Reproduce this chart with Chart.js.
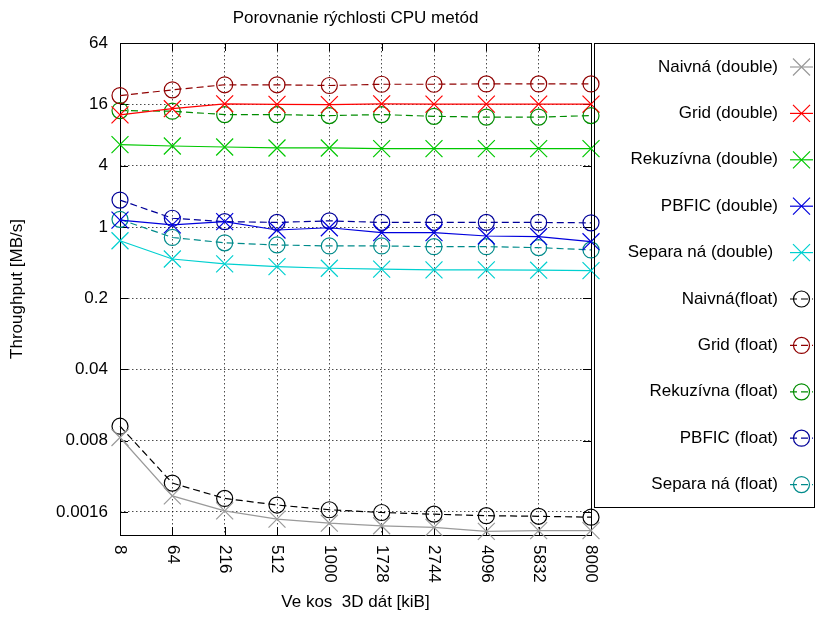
<!DOCTYPE html>
<html>
<head>
<meta charset="utf-8">
<script src="https://cdn.jsdelivr.net/npm/chart.js"></script>
<style>
  body { margin: 0; background: #fff; }
  #wrap { width: 817px; height: 617px; }
</style>
</head>
<body>
<div id="wrap"><canvas id="myChart" width="817" height="617"></canvas></div>
<script>
// data
const sizes = ['8', '64', '216', '512', '1000', '1728', '2744', '4096', '5832', '8000'];
const yTicks = [0.0016, 0.008, 0.04, 0.2, 1, 4, 16, 64];

const naivnaDouble = [0.0086, 0.0023, 0.00164, 0.00136, 0.00124, 0.00117, 0.00113, 0.00103, 0.00105, 0.00105];
const gridDouble = [12.6, 14.5, 16.2, 16.0, 15.9, 16.2, 16.1, 16.1, 16.1, 16.1];
const rekDouble = [6.44, 6.24, 6.10, 5.97, 5.97, 5.88, 5.88, 5.88, 5.88, 5.88];
const pbficDouble = [1.17, 1.05, 1.13, 0.935, 0.984, 0.88, 0.88, 0.817, 0.804, 0.718];
const sepDouble = [0.734, 0.486, 0.435, 0.409, 0.394, 0.386, 0.380, 0.380, 0.377, 0.374];

const naivnaFloat = [0.0111, 0.00307, 0.00217, 0.00187, 0.00168, 0.00158, 0.00152, 0.00147, 0.00145, 0.00142];
const gridFloat = [19.5, 22.2, 24.9, 24.9, 24.5, 25.2, 25.2, 25.4, 25.4, 25.4];
const rekFloat = [13.9, 13.7, 12.7, 12.7, 12.4, 12.7, 12.2, 12.0, 12.0, 12.4];
const pbficFloat = [1.84, 1.22, 1.13, 1.11, 1.15, 1.11, 1.11, 1.11, 1.11, 1.10];
const sepFloat = [1.19, 0.79, 0.70, 0.667, 0.652, 0.652, 0.642, 0.642, 0.628, 0.596];

const FONT = "'Liberation Sans', Arial, sans-serif";
Chart.defaults.font.family = FONT;
Chart.defaults.font.size = 17;
Chart.defaults.color = '#000';

function serie(label, data, color, isFloat) {
    return {
        label: label,
        data: data,
        borderColor: color,
        backgroundColor: 'transparent',
        borderWidth: 1.2,
        borderDash: isFloat ? [7, 4] : [],
        pointStyle: isFloat ? 'circle' : 'crossRot',
        pointRadius: isFloat ? 8 : 12,
        pointHoverRadius: isFloat ? 8 : 12,
        pointBorderColor: color,
        pointBackgroundColor: 'transparent',
        pointBorderWidth: 1.2,
        tension: 0,
        clip: false
    };
}

const datasets = [
    serie('Naivná (double)', naivnaDouble, '#9a9a9a', false),
    serie('Grid (double)', gridDouble, '#ff0000', false),
    serie('Rekuzívna (double)', rekDouble, '#00c800', false),
    serie('PBFIC (double)', pbficDouble, '#0000dd', false),
    serie('Separa ná (double) ', sepDouble, '#00d0d0', false),
    serie('Naivná(float)', naivnaFloat, '#000000', true),
    serie('Grid (float)', gridFloat, '#900000', true),
    serie('Rekuzívna (float)', rekFloat, '#008c00', true),
    serie('PBFIC (float)', pbficFloat, '#000099', true),
    serie('Separa ná (float)', sepFloat, '#008b8b', true)
];

// frame, inner tick marks, rotated x labels and the legend box
const decor = {
    id: 'decor',
    beforeDatasetsDraw(chart) {
        const {ctx, chartArea: a, scales} = chart;
        ctx.save();
        ctx.strokeStyle = '#000';
        ctx.lineWidth = 1;
        ctx.setLineDash([]);
        ctx.beginPath();
        yTicks.forEach(v => {
            const y = Math.round(scales.y.getPixelForValue(v)) + 0.5;
            ctx.moveTo(a.left, y); ctx.lineTo(a.left + 8, y);
            ctx.moveTo(a.right, y); ctx.lineTo(a.right - 8, y);
        });
        sizes.forEach((s, i) => {
            const x = Math.round(scales.x.getPixelForValue(i)) + 0.5;
            ctx.moveTo(x, a.bottom); ctx.lineTo(x, a.bottom - 8);
            ctx.moveTo(x, a.top); ctx.lineTo(x, a.top + 8);
        });
        ctx.stroke();
        ctx.strokeRect(Math.round(a.left) + 0.5, Math.round(a.top) + 0.5,
            Math.round(a.right - a.left), Math.round(a.bottom - a.top));
        ctx.restore();
    },
    afterDraw(chart) {
        const {ctx, chartArea: a, scales} = chart;
        ctx.save();
        ctx.font = '17px ' + FONT;
        ctx.fillStyle = '#000';
        ctx.textAlign = 'left';
        ctx.textBaseline = 'middle';
        sizes.forEach((s, i) => {
            const x = scales.x.getPixelForValue(i);
            ctx.save();
            ctx.translate(x, a.bottom + 10);
            ctx.rotate(Math.PI / 2);
            ctx.fillText(s, 0, 0);
            ctx.restore();
        });

        // legend
        const bx = 594, by = 43, bw = 220, bh = 464;
        ctx.strokeStyle = '#000';
        ctx.lineWidth = 1;
        ctx.strokeRect(bx + 0.5, by + 0.5, bw, bh);
        ctx.textAlign = 'right';
        chart.data.datasets.forEach((ds, i) => {
            const y = 67 + i * 46.4;
            ctx.fillStyle = '#000';
            ctx.fillText(ds.label, 778, y);
            ctx.strokeStyle = ds.borderColor;
            ctx.lineWidth = 1.2;
            ctx.setLineDash(ds.borderDash);
            ctx.beginPath();
            ctx.moveTo(790, y); ctx.lineTo(813, y);
            ctx.stroke();
            ctx.setLineDash([]);
            const cx = 801.5;
            ctx.beginPath();
            if (ds.pointStyle === 'circle') {
                ctx.arc(cx, y, 8, 0, Math.PI * 2);
            } else {
                const d = 8.5;
                ctx.moveTo(cx - d, y - d); ctx.lineTo(cx + d, y + d);
                ctx.moveTo(cx - d, y + d); ctx.lineTo(cx + d, y - d);
            }
            ctx.stroke();
        });
        ctx.restore();
    }
};

function drawChart() {
    const ctx = document.getElementById('myChart');
    new Chart(ctx, {
        type: 'line',
        data: {
            labels: sizes,
            datasets: datasets
        },
        options: {
            responsive: false,
            animation: false,
            events: [],
            layout: {
                padding: {left: 0, right: 226, top: 0, bottom: 0}
            },
            plugins: {
                legend: {display: false},
                tooltip: {enabled: false},
                title: {
                    display: true,
                    fullSize: false,
                    text: 'Porovnanie rýchlosti CPU metód',
                    font: {size: 17, weight: 'normal'},
                    color: '#000',
                    padding: {top: 8, bottom: 14.6}
                }
            },
            scales: {
                x: {
                    type: 'category',
                    offset: false,
                    grid: {color: 'rgba(0,0,0,0.7)', lineWidth: 1, drawTicks: false},
                    border: {display: false, dash: [1.5, 2.5]},
                    ticks: {display: false},
                    title: {
                        display: true,
                        text: 'Ve kos  3D dát [kiB]',
                        font: {size: 17},
                        color: '#000',
                        padding: {top: 0, bottom: 4}
                    },
                    afterFit: scale => { scale.height = 82; }
                },
                y: {
                    type: 'logarithmic',
                    min: 0.00095,
                    max: 64,
                    grid: {color: 'rgba(0,0,0,0.7)', lineWidth: 1, drawTicks: false},
                    border: {display: false, dash: [1.5, 2.5]},
                    afterBuildTicks: scale => {
                        scale.ticks = yTicks.map(v => ({value: v}));
                    },
                    ticks: {
                        padding: 12,
                        font: {size: 17},
                        color: '#000',
                        callback: v => String(v)
                    },
                    title: {
                        display: true,
                        text: 'Throughput [MB/s]',
                        font: {size: 17},
                        color: '#000',
                        padding: {top: 7, bottom: 0}
                    },
                    afterFit: scale => { scale.width = 120; }
                }
            }
        },
        plugins: [decor]
    });
}

window.addEventListener('load', evt => drawChart());
</script>
</body>
</html>
